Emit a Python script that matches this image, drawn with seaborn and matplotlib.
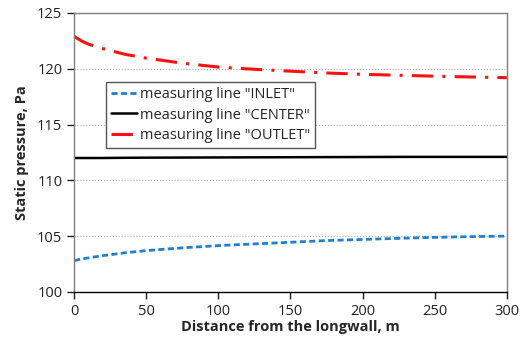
import numpy as np
import pandas as pd
import matplotlib
matplotlib.use("Agg")
import matplotlib.pyplot as plt
import seaborn as sns

# Values
distance = [0, 5, 10, 20, 35, 50, 75, 100, 125, 150, 175, 200, 230, 260, 300]
p_inlet = [102.8, 102.95, 103.05, 103.25, 103.5, 103.7, 103.95, 104.15, 104.3, 104.45, 104.6, 104.7, 104.82, 104.92, 105.0]
p_center = [112.0, 112.0, 112.0, 112.0, 112.02, 112.03, 112.04, 112.05, 112.06, 112.07, 112.08, 112.09, 112.1, 112.1, 112.1]
p_outlet = [122.9, 122.5, 122.2, 121.8, 121.3, 120.95, 120.5, 120.15, 119.95, 119.78, 119.62, 119.5, 119.4, 119.3, 119.2]

labels = ['measuring line "INLET"', 'measuring line "CENTER"', 'measuring line "OUTLET"']
colors = ['#1f7fd0', 'black', '#ff1010']
styles = [(0, (2.2, 1.2)), '-', (0, (7, 3, 1, 3))]
widths = [2.0, 1.8, 2.2]

sns.set_style("white")
plt.rcParams['font.family'] = ['Open Sans', 'DejaVu Sans']

fig = plt.figure(figsize=(5.22, 3.5), dpi=100)
ax = fig.add_axes([0.142, 0.166, 0.829, 0.797])

for vals, lab, col, ls, lw in zip([p_inlet, p_center, p_outlet], labels, colors, styles, widths):
    sns.lineplot(x=distance, y=vals, ax=ax, color=col, linewidth=lw, label=lab)
    ax.lines[-1].set_linestyle(ls)

ax.set_xlim(0, 300)
ax.set_ylim(100, 125)
ax.set_xticks(range(0, 301, 50))
ax.set_yticks(range(100, 126, 5))
ax.yaxis.grid(True, color='#b0b0b0', linestyle=':', linewidth=0.8)
ax.xaxis.grid(False)

for side in ['left', 'top', 'right']:
    ax.spines[side].set_color('#7f7f7f')
ax.spines['bottom'].set_color('black')
for sp in ax.spines.values():
    sp.set_linewidth(1.0)

ax.tick_params(axis='both', labelsize=10.5, colors='#222222', length=5, width=1,
               direction='out', bottom=True, left=True)
ax.set_xlabel('Distance from the longwall, m', fontsize=10.5, fontweight='bold', labelpad=1)
ax.set_ylabel('Static pressure, Pa', fontsize=10.5, fontweight='bold', labelpad=6)

leg = ax.legend(loc='upper left', bbox_to_anchor=(0.056, 0.78), fontsize=10.5,
                frameon=True, fancybox=False, framealpha=1, borderpad=0.35,
                handlelength=1.8, handletextpad=0.2, labelspacing=0.4)
leg.get_frame().set_edgecolor('#555555')
leg.get_frame().set_linewidth(1.0)

fig.savefig('out.png', dpi=100)
